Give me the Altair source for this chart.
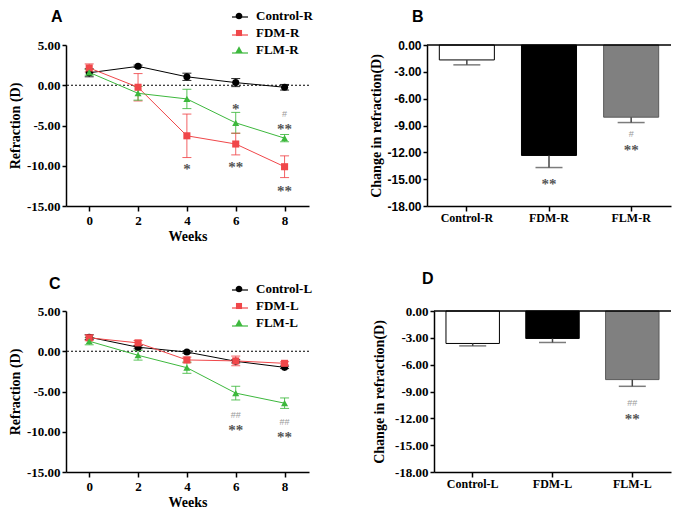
import altair as alt
import pandas as pd

SERIF = "Liberation Serif"
SANS = "Liberation Sans"

weeks = [0, 2, 4, 6, 8]

# Panel A (right eye)
names_r = ["Control-R", "FDM-R", "FLM-R"]
ctrl_r = [1.55, 2.35, 1.05, 0.33, -0.25]
ctrl_r_err = [0.5, 0.15, 0.45, 0.5, 0.35]
fdm_r = [2.15, -0.25, -6.28, -7.3, -10.12]
fdm_r_err = [0.5, 1.7, 2.7, 1.35, 1.35]
flm_r = [1.6, -1.0, -1.7, -4.67, -6.57]
flm_r_err = [0.35, 0.85, 1.2, 1.3, 0.45]

# Panel C (left eye)
names_l = ["Control-L", "FDM-L", "FLM-L"]
ctrl_l = [1.75, 0.5, -0.1, -1.25, -2.0]
ctrl_l_err = [0.3, 0.2, 0.15, 0.2, 0.15]
fdm_l = [1.67, 1.04, -1.08, -1.2, -1.5]
fdm_l_err = [0.35, 0.3, 0.35, 0.6, 0.2]
flm_l = [1.25, -0.5, -2.04, -5.2, -6.45]
flm_l_err = [0.45, 0.6, 0.7, 0.85, 0.65]

# Panel B / D (change in refraction)
change_r = [-1.67, -12.35, -8.07]
change_r_err = [0.55, 1.35, 0.6]
change_l = [-3.63, -3.07, -7.67]
change_l_err = [0.27, 0.45, 0.75]

# Annotations
ann_a_x = [4, 6, 6, 8, 8, 8]
ann_a_y = [-9.96, -2.5, -9.7, -3.6, -4.9, -12.7]
ann_a_t = ["*", "*", "**", "#", "**", "**"]
ann_c_x = [6, 6, 8, 8]
ann_c_y = [-7.96, -9.25, -8.75, -10.2]
ann_c_t = ["##", "**", "##", "**"]
ann_b_x = ["FDM-R", "FLM-R", "FLM-R"]
ann_b_y = [-15.06, -10.0, -11.34]
ann_b_t = ["**", "#", "**"]
ann_d_x = ["FLM-L", "FLM-L"]
ann_d_y = [-10.3, -11.6]
ann_d_t = ["##", "**"]

line_colors = ["#000000", "#F0474A", "#3DB83D"]
shapes = ["circle", "square", "triangle-up"]
legend_marks = [
    "M-0.42,0A0.42,0.42 0 1,0 0.42,0A0.42,0.42 0 1,0 -0.42,0Z",
    "M-0.38,-0.38H0.38V0.38H-0.38Z",
    "M0,-0.46L0.46,0.36H-0.46Z",
]
bar_fills = ["#FFFFFF", "#000000", "#808080"]
bar_strokes = ["#000000", "#000000", "#5A5A5A"]

MINUS_EXPR = "(datum.value < 0 ? '-' : '') + format(abs(datum.value), '.2f')"


def long_df(names, vals, errs):
    rows = []
    for n, v, e in zip(names, vals, errs):
        for w, vv, ee in zip(weeks, v, e):
            rows.append({"week": w, "series": n, "value": vv, "lo": vv - ee, "hi": vv + ee})
    return pd.DataFrame(rows)


def ann_df(xs, ys, ts):
    return pd.DataFrame({"x": xs, "y": ys, "t": ts,
                         "kind": ["hash" if "#" in t else "star" for t in ts]})


def line_panel(names, vals, errs, ann, letter, legend_y, title_dx, title_dy):
    df = long_df(names, vals, errs)
    xscale = alt.Scale(domain=[-0.95, 9], nice=False, zero=False)
    yscale = alt.Scale(domain=[-15, 5], nice=False, zero=False)
    xaxis = alt.Axis(values=weeks, title="Weeks", format="d", labelFont=SERIF,
                     labelFontSize=13, labelFontWeight="bold", titleFont=SERIF,
                     titleFontSize=14, titleFontWeight="bold", tickSize=5,
                     labelPadding=3, titlePadding=2)
    yaxis = alt.Axis(values=[5, 0, -5, -10, -15], labelExpr=MINUS_EXPR,
                     title="Refraction (D)", labelFont=SERIF, labelFontSize=13,
                     labelFontWeight="bold", titleFont=SERIF, titleFontSize=14,
                     titleFontWeight="bold", tickSize=4, labelPadding=2,
                     titlePadding=4)
    color = alt.Color("series:N", scale=alt.Scale(domain=names, range=line_colors), legend=None)
    X = alt.X("week:Q", scale=xscale, axis=xaxis)

    zero = alt.Chart(pd.DataFrame({"z": [0]})).mark_rule(
        color="black", strokeDash=[2, 2], strokeWidth=1
    ).encode(y=alt.Y("z:Q", scale=yscale, axis=yaxis))
    base = alt.Chart(df)
    err = base.mark_rule(strokeWidth=1, opacity=0.85).encode(
        x=X, y=alt.Y("lo:Q", scale=yscale, axis=yaxis), y2="hi:Q", color=color)
    cap_lo = base.mark_tick(orient="horizontal", size=9, thickness=1, opacity=0.85).encode(
        x=X, y=alt.Y("lo:Q", scale=yscale, axis=yaxis), color=color)
    cap_hi = base.mark_tick(orient="horizontal", size=9, thickness=1, opacity=0.85).encode(
        x=X, y=alt.Y("hi:Q", scale=yscale, axis=yaxis), color=color)
    line = base.mark_line(strokeWidth=1).encode(
        x=X, y=alt.Y("value:Q", scale=yscale, axis=yaxis), color=color)
    pts = base.mark_point(filled=True, size=50, opacity=1).encode(
        x=X, y=alt.Y("value:Q", scale=yscale, axis=yaxis), color=color,
        shape=alt.Shape("series:N", scale=alt.Scale(domain=names, range=shapes), legend=None))

    common = dict(title=None, orient="none", legendX=165, legendY=legend_y,
                  labelFont=SERIF, labelFontSize=13, labelFontWeight="bold",
                  symbolSize=256, labelOffset=9, rowPadding=2, padding=0)
    leg_marks = alt.Legend(labelColor="black", symbolStrokeWidth=0, **common)
    leg_lines = alt.Legend(labelOpacity=0, labelExpr="' '", symbolStrokeWidth=1.2, **common)
    empty = pd.DataFrame({"week": [0, 0, 0], "value": [None, None, None], "series": names})
    dummy_marks = alt.Chart(empty).mark_point(filled=True, opacity=1).encode(
        x=X, y=alt.Y("value:Q", scale=yscale, axis=yaxis),
        color=alt.Color("series:N", scale=alt.Scale(domain=names, range=line_colors), legend=leg_marks),
        shape=alt.Shape("series:N", scale=alt.Scale(domain=names, range=legend_marks), legend=leg_marks),
    )
    dummy_lines = alt.Chart(empty).mark_line(strokeWidth=1.2).encode(
        x=X, y=alt.Y("value:Q", scale=yscale, axis=yaxis),
        stroke=alt.Stroke("series:N", scale=alt.Scale(domain=names, range=line_colors), legend=leg_lines),
    )

    ab = alt.Chart(ann)
    stars = ab.transform_filter("datum.kind == 'star'").mark_text(
        font=SERIF, fontSize=15, fontWeight="bold", color="#555555", dy=4).encode(
        x=alt.X("x:Q", scale=xscale, axis=xaxis), y=alt.Y("y:Q", scale=yscale, axis=yaxis), text="t:N")
    hashes = ab.transform_filter("datum.kind == 'hash'").mark_text(
        font=SANS, fontSize=9, color="#9A9A9A").encode(
        x=alt.X("x:Q", scale=xscale, axis=xaxis), y=alt.Y("y:Q", scale=yscale, axis=yaxis), text="t:N")

    return alt.layer(zero, err, cap_lo, cap_hi, line, pts, dummy_lines, dummy_marks,
                     stars, hashes).resolve_scale(
        shape="independent", color="independent", stroke="independent"
    ).properties(
        width=243, height=161,
        title=alt.TitleParams(letter, anchor="start", frame="group", dx=title_dx, dy=title_dy,
                              font=SANS, fontSize=16, fontWeight="bold", color="black",
                              baseline="bottom", offset=0),
    )


def bar_panel(groups, vals, errs, ann, letter, label_font, width, label_size, title_pad,
              title_dx, title_dy):
    df = pd.DataFrame({"group": groups, "value": vals,
                       "lo": [v - e for v, e in zip(vals, errs)]})
    yscale = alt.Scale(domain=[-18, 0], nice=False, zero=False)
    xscale = alt.Scale(domain=groups, paddingInner=0.33, paddingOuter=0.15)
    xaxis = alt.Axis(title=None, labelAngle=0, labelFont=SERIF, labelFontSize=12,
                     labelFontWeight="bold", tickSize=5, labelPadding=1)
    yaxis = alt.Axis(values=[0, -3, -6, -9, -12, -15, -18], labelExpr=MINUS_EXPR,
                     title="Change in refraction(D)", labelFont=label_font,
                     labelFontSize=label_size, labelFontWeight="bold", titleFont=SERIF,
                     titleFontSize=14, titleFontWeight="bold", tickSize=4, labelPadding=2,
                     titlePadding=title_pad)
    X = alt.X("group:N", scale=xscale, axis=xaxis, sort=groups)
    base = alt.Chart(df)
    bars = base.mark_bar(strokeWidth=1).encode(
        x=X, y=alt.Y("value:Q", scale=yscale, axis=yaxis),
        fill=alt.Fill("group:N", scale=alt.Scale(domain=groups, range=bar_fills), legend=None),
        stroke=alt.Stroke("group:N", scale=alt.Scale(domain=groups, range=bar_strokes), legend=None),
    )
    err = base.mark_rule(color="#444444", strokeWidth=1.5).encode(
        x=X, y=alt.Y("value:Q", scale=yscale, axis=yaxis), y2="lo:Q")
    cap = base.mark_tick(orient="horizontal", size=27, thickness=1.5, color="#444444").encode(
        x=X, y=alt.Y("lo:Q", scale=yscale, axis=yaxis))
    zero = alt.Chart(pd.DataFrame({"z": [0]})).mark_rule(color="black", strokeWidth=1.5).encode(
        y=alt.Y("z:Q", scale=yscale, axis=yaxis))
    ab = alt.Chart(ann)
    stars = ab.transform_filter("datum.kind == 'star'").mark_text(
        font=SERIF, fontSize=15, fontWeight="bold", color="#555555", dy=4).encode(
        x=alt.X("x:N", scale=xscale, axis=xaxis, sort=groups),
        y=alt.Y("y:Q", scale=yscale, axis=yaxis), text="t:N")
    hashes = ab.transform_filter("datum.kind == 'hash'").mark_text(
        font=SANS, fontSize=9, color="#9A9A9A").encode(
        x=alt.X("x:N", scale=xscale, axis=xaxis, sort=groups),
        y=alt.Y("y:Q", scale=yscale, axis=yaxis), text="t:N")
    return alt.layer(bars, err, cap, zero, stars, hashes).properties(
        width=width, height=161,
        title=alt.TitleParams(letter, anchor="start", frame="group", dx=title_dx, dy=title_dy,
                              font=SANS, fontSize=16, fontWeight="bold", color="black",
                              baseline="bottom", offset=18),
    )


indep = dict(color="independent", fill="independent", stroke="independent",
             shape="independent", x="independent", y="independent")

panel_a = line_panel(names_r, [ctrl_r, fdm_r, flm_r], [ctrl_r_err, fdm_r_err, flm_r_err],
                     ann_df(ann_a_x, ann_a_y, ann_a_t), "A", -37, -15, 33)
panel_c = line_panel(names_l, [ctrl_l, fdm_l, flm_l], [ctrl_l_err, fdm_l_err, flm_l_err],
                     ann_df(ann_c_x, ann_c_y, ann_c_t), "C", -30, -17, 27)
panel_b = bar_panel(names_r, change_r, change_r_err, ann_df(ann_b_x, ann_b_y, ann_b_t),
                    "B", SANS, 244, 12, 3, -15, 20)
panel_d = bar_panel(names_l, change_l, change_l_err, ann_df(ann_d_x, ann_d_y, ann_d_t),
                    "D", SERIF, 237, 13, 8, -12, 16)

row1 = alt.hconcat(panel_a, panel_b, spacing=118, bounds="flush").resolve_scale(**indep)
row2 = alt.hconcat(panel_c, panel_d, spacing=125, bounds="flush").resolve_scale(**indep)

chart = alt.vconcat(row1, row2, spacing=28).resolve_scale(**indep).properties(
    padding=0
).configure_view(
    stroke=None
).configure_axis(
    domainColor="black", domainWidth=1.5, tickColor="black", tickWidth=1.5, grid=False,
    labelColor="black", titleColor="black"
)

chart.save("out.html", embed_options={"renderer": "svg", "actions": False})
